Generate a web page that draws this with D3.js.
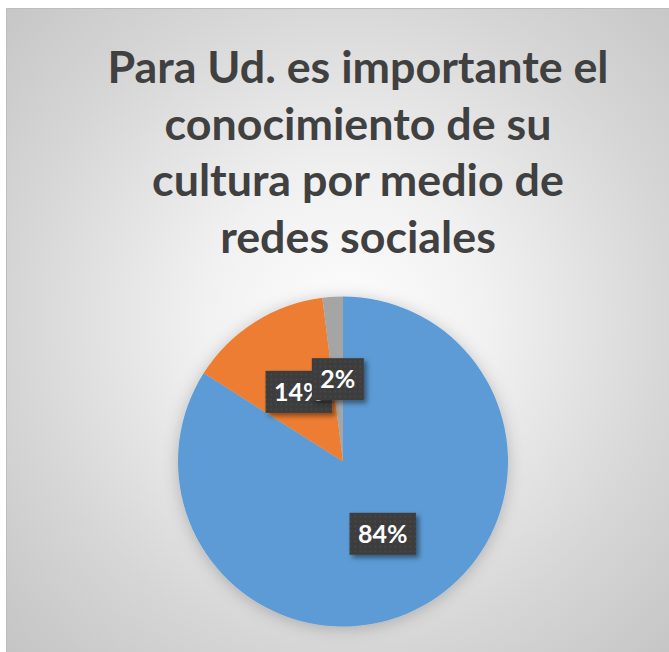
<!DOCTYPE html>
<html>
<head>
<meta charset="utf-8">
<script src="https://cdn.jsdelivr.net/npm/d3@7"></script>
<style>
    body { margin: 0; background: #ffffff; overflow: hidden; }
    svg { display: block; }
</style>
</head>
<body>
<div id="chart"></div>
<script>

// chart data
let titleLines = ["Para Ud. es importante el", "conocimiento de su", "cultura por medio de", "redes sociales"];
let categories = ["Sí", "No", "Tal vez"];
let values = [84, 14, 2];
let labels = ["84%", "14%", "2%"];
let colors = ["#5B9BD5", "#ED7D31", "#A5A5A5"];

let width = 669,
    height = 652;

let svg = d3.select("#chart").append("svg")
    .attr("width", width)
    .attr("height", height);

let defs = svg.append("defs");

// background gradient of the chart area
let grad = defs.append("radialGradient")
    .attr("id", "bg")
    .attr("gradientUnits", "userSpaceOnUse")
    .attr("cx", 345).attr("cy", 320).attr("r", 470);
grad.append("stop").attr("offset", "0").attr("stop-color", "#fdfdfd");
grad.append("stop").attr("offset", "0.3").attr("stop-color", "#f1f1f1");
grad.append("stop").attr("offset", "0.7").attr("stop-color", "#d6d6d6");
grad.append("stop").attr("offset", "1").attr("stop-color", "#c5c5c5");

// soft glow around the pie
let glow = defs.append("filter")
    .attr("id", "glow")
    .attr("x", "-20%").attr("y", "-20%")
    .attr("width", "140%").attr("height", "140%");
glow.append("feDropShadow")
    .attr("dx", 0).attr("dy", 2)
    .attr("stdDeviation", 8)
    .attr("flood-color", "#000")
    .attr("flood-opacity", 0.22);

// shadow of the label boxes
let shadow = defs.append("filter")
    .attr("id", "shadow")
    .attr("x", "-30%").attr("y", "-30%")
    .attr("width", "160%").attr("height", "160%");
shadow.append("feDropShadow")
    .attr("dx", 3).attr("dy", 3)
    .attr("stdDeviation", 2.5)
    .attr("flood-color", "#000")
    .attr("flood-opacity", 0.45);

// dotted fill of the label boxes
let pattern = defs.append("pattern")
    .attr("id", "dots")
    .attr("patternUnits", "userSpaceOnUse")
    .attr("width", 5).attr("height", 5);
pattern.append("rect")
    .attr("width", 5).attr("height", 5)
    .attr("fill", "#3d3d3d");
pattern.append("circle")
    .attr("cx", 2.5).attr("cy", 2.5).attr("r", 0.9)
    .attr("fill", "#4c4c4c");

// chart area
svg.append("rect")
    .attr("x", 6.5).attr("y", 8.5)
    .attr("width", width + 10).attr("height", height + 10)
    .attr("fill", "url(#bg)")
    .attr("stroke", "#bdbdbd")
    .attr("stroke-width", 1);

// title
let title = svg.append("g")
    .attr("class", "title");

let titleText = title.selectAll("text")
    .data(titleLines)
    .enter().append("text")
    .attr("x", 358)
    .attr("y", function(d, i) { return 83 + i * 56.5; })
    .attr("text-anchor", "middle")
    .style("font-family", "Lato, 'Open Sans', sans-serif")
    .style("font-weight", "bold")
    .style("font-size", "44px")
    .style("fill", "#404040")
    .text(function(d) { return d; });

// squeeze the lines to the narrower width of the original font
let firstLen = titleText.node().getComputedTextLength(),
    k = 501 / firstLen;
titleText.each(function() {
    let len = this.getComputedTextLength();
    d3.select(this)
        .attr("textLength", len * k)
        .attr("lengthAdjust", "spacingAndGlyphs");
});

// pie
let radius = 165;
let cx = 343,
    cy = 461.5;

let pie = d3.pie()
    .sort(null)
    .value(function(d) { return d; });

let arc = d3.arc()
    .innerRadius(0)
    .outerRadius(radius);

let arcs = pie(values);

let group = svg.append("g")
    .attr("transform", "translate(" + cx + "," + cy + ")");

group.append("g")
    .attr("filter", "url(#glow)")
    .selectAll("path")
    .data(arcs)
    .enter().append("path")
    .attr("d", arc)
    .style("fill", function(d, i) { return colors[i]; });

// data labels
let label = group.selectAll(".label")
    .data(arcs)
    .enter().append("g")
    .attr("class", "label")
    .attr("transform", function(d) { return "translate(" + arc.centroid(d) + ")"; });

let box = label.append("rect")
    .attr("fill", "url(#dots)")
    .attr("filter", "url(#shadow)");

let text = label.append("text")
    .attr("text-anchor", "middle")
    .attr("dy", "0.35em")
    .style("font-family", "Lato, 'Open Sans', sans-serif")
    .style("font-weight", "bold")
    .style("font-size", "25px")
    .style("fill", "#ffffff")
    .text(function(d, i) { return labels[i]; });

// size every box to its text
text.each(function(d, i) {
    let w = this.getComputedTextLength() + 17,
        h = 42;
    d3.select(box.nodes()[i])
        .attr("x", -w / 2)
        .attr("y", -h / 2)
        .attr("width", w)
        .attr("height", h);
});

</script>
</body>
</html>
